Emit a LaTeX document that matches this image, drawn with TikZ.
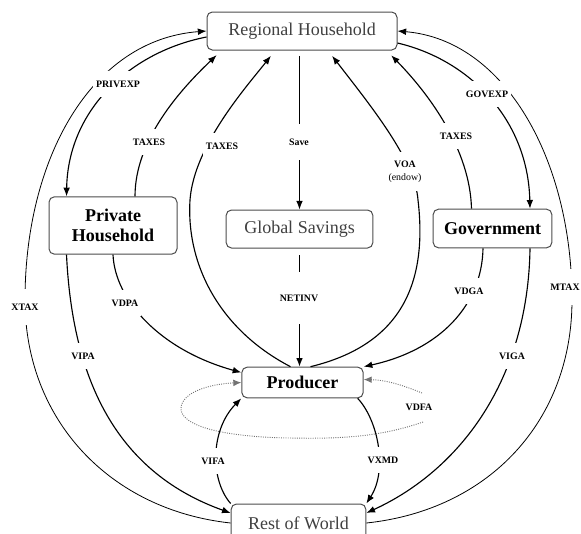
\documentclass[tikz,border=0pt]{standalone}
\usepackage{fontspec}
\setmainfont{Liberation Serif}
\usetikzlibrary{arrows.meta,calc}
\begin{document}
\begin{tikzpicture}[x=0.75pt,y=-0.75pt,
  box/.style={draw=black!70, line width=0.75pt, rounded corners=4pt, inner sep=1pt, fill=white},
  plainbox/.style={box, text=black!75, font=\fontsize{13.5}{15}\selectfont},
  boldbox/.style={box, text=black, font=\fontsize{13.5}{14.5}\selectfont\bfseries, align=center},
  flow/.style={line width=0.85pt, -{Latex[length=6.5pt,width=5pt]}},
  dotflow/.style={line width=0.7pt, draw=black!55, densely dotted, -{Latex[length=6pt,width=5pt]}},
  lab/.style={fill=white, font=\fontsize{7.4}{9.5}\selectfont\bfseries, inner xsep=2pt, inner ysep=7pt},
]
\useasboundingbox (0,0) rectangle (581,533);

% boxes
\node[plainbox, minimum width=142.5pt, minimum height=28.5pt] (RH) at (302,31) {Regional Household};
\node[plainbox, minimum width=110pt, minimum height=28.5pt] (GS) at (299.5,229) {Global Savings};
\node[boldbox, minimum width=96pt, minimum height=43pt] (PH) at (113,225.5) {Private\\Household};
\node[boldbox, minimum width=89pt, minimum height=29pt] (GOV) at (492.5,228.5) {Government};
\node[boldbox, minimum width=91pt, minimum height=23pt] (PROD) at (302.5,382.5) {Producer};
\node[plainbox, minimum width=101pt, minimum height=28.5pt] (ROW) at (298.5,523) {Rest of World};

% XTAX and MTAX (outer arcs)
\draw[flow, line width=0.6pt] (ROW.west) .. controls (110,510) and (25,420) .. (25,300) .. controls (25,160) and (90,40) .. (RH.west);
\draw[flow, line width=0.6pt] (ROW.east) .. controls (490,510) and (572,420) .. (572,300) .. controls (572,160) and (505,40) .. (RH.east);

% PRIVEXP
\draw[flow] ($(RH.west)+(0,6)$) .. controls (130,52) and (68,110) .. ($(PH.north west)+(18,0)$);
% TAXES (private household)
\draw[flow, shorten >=5pt] ($(PH.north)+(22,0)$) .. controls (135,140) and (180,90) .. ($(RH.south west)+(15,0)$);
% TAXES (producer)
\draw[flow, shorten >=5pt] ($(PROD.north)+(-12,0)$) .. controls (220,330) and (186,265) .. (190,200) .. controls (194,145) and (248,85) .. ($(RH.south)+(-27,0)$);
% Save
\draw[flow, shorten <=4pt] (GS.north |- RH.south) -- (GS.north);
% NETINV
\draw[flow, shorten <=5pt] (GS.south) -- (GS.south |- PROD.north);
% VOA
\draw[flow, shorten >=5pt] ($(PROD.north)+(8,0)$) .. controls (400,345) and (428,285) .. (418,200) .. controls (415,160) and (370,105) .. ($(RH.south)+(26,0)$);
% TAXES (government)
\draw[flow, shorten >=5pt] ($(GOV.north)+(-21,0)$) .. controls (470,150) and (430,95) .. ($(RH.south east)+(-11,0)$);
% GOVEXP
\draw[flow] ($(RH.east)+(0,12)$) .. controls (470,60) and (528,120) .. ($(GOV.north)+(37.5,0)$);
% VDPA
\draw[flow] (PH.south) .. controls (115,300) and (160,350) .. ($(PROD.west)+(0,-10)$);
% VIPA
\draw[flow] ($(PH.south west)+(18,0)$) .. controls (72,370) and (110,470) .. ($(ROW.west)+(0,-10)$);
% VDGA
\draw[flow] ($(GOV.south)+(-9.5,0)$) .. controls (482,305) and (440,350) .. (PROD.north east);
% VIGA
\draw[flow] ($(GOV.south)+(37.5,0)$) .. controls (528,380) and (460,470) .. ($(ROW.east)+(0,-10)$);
% VIFA
\draw[flow] (ROW.north west) .. controls (210,480) and (210,430) .. (PROD.south west);
% VXMD
\draw[flow] ($(PROD.south east)+(-6,0)$) .. controls (378,420) and (388,470) .. (ROW.north east);
% VDFA (dotted loop)
\coordinate (dfa1) at (422,393);
\coordinate (dfa2) at (423,422);
\draw[dotflow] (dfa1) .. controls (400,384) and (385,380) .. ($(PROD.east)+(0,-3)$);
\draw[dotflow] (dfa2) .. controls (380,437) and (340,439) .. (290,438) .. controls (220,437) and (180,425) .. (181,408) .. controls (182,392) and (210,384) .. (PROD.west);

% labels
\node[lab] (lprivexp) at (118,84) {PRIVEXP};
\node[lab] (ltax1) at (149,142) {TAXES};
\node[lab] (ltax2) at (222,146) {TAXES};
\node[lab, inner ysep=11pt] (lsave) at (299,142) {Save};
\node[lab, align=center] (lvoa) at (405,171.5) {VOA\\{\mdseries(endow)}};
\node[lab] (ltax3) at (456,136) {TAXES};
\node[lab] (lgovexp) at (487,94) {GOVEXP};
\node[lab, inner ysep=11pt] (lxtax) at (25,307) {XTAX};
\node[lab, inner ysep=11pt] (lmtax) at (565,287) {MTAX};
\node[lab] (lvdpa) at (125,303) {VDPA};
\node[lab] (lvipa) at (83,356) {VIPA};
\node[lab, inner ysep=17pt] (lnetinv) at (299,298) {NETINV};
\node[lab] (lvdga) at (469,291) {VDGA};
\node[lab] (lviga) at (512,356) {VIGA};
\node[lab] (lvifa) at (213,461) {VIFA};
\node[lab] (lvxmd) at (383,460) {VXMD};
\node[lab, fill=none] (lvdfa) at (419,407) {VDFA};
\end{tikzpicture}
\end{document}
